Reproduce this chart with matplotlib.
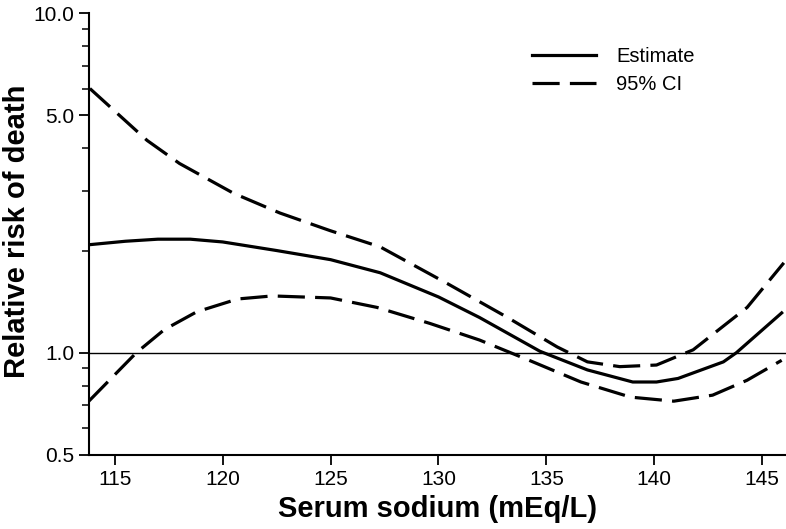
import matplotlib
matplotlib.use("Agg")
import matplotlib.pyplot as plt
from matplotlib.ticker import FixedLocator, NullFormatter

plt.rcParams['font.family'] = ['Liberation Sans', 'DejaVu Sans']

# values
est_x = [113.8, 115.5, 117.0, 118.5, 120.0, 122.5, 125.0, 127.3, 130.0, 131.9, 134.7, 136.9, 139.0, 140.1, 141.1, 143.2, 143.8, 145.9]
est_y = [2.08, 2.13, 2.16, 2.16, 2.12, 2.00, 1.88, 1.72, 1.46, 1.27, 1.01, 0.89, 0.82, 0.82, 0.84, 0.94, 1.00, 1.31]

upper_x = [113.85, 116.5, 118.0, 120.5, 122.65, 124.97, 127.3, 130.4, 133.2, 135.5, 136.9, 138.4, 140.1, 141.8, 144.3, 146.0]
upper_y = [6.0, 4.22, 3.61, 2.95, 2.58, 2.29, 2.05, 1.60, 1.27, 1.04, 0.94, 0.91, 0.92, 1.02, 1.36, 1.84]

lower_x = [113.8, 116.0, 117.3, 118.8, 120.7, 122.3, 125.0, 127.15, 129.6, 131.9, 134.2, 136.6, 138.9, 140.9, 142.7, 144.3, 145.9]
lower_y = [0.72, 1.0, 1.17, 1.32, 1.44, 1.47, 1.45, 1.36, 1.22, 1.09, 0.95, 0.82, 0.74, 0.72, 0.75, 0.83, 0.95]

fig = plt.figure(figsize=(7.86, 5.29), dpi=100)
ax = fig.add_axes([0.113, 0.14, 0.887, 0.835])

dash = (0, (8.5, 3.2))
ax.axhline(1.0, color='black', lw=1.0)
ax.plot(est_x, est_y, color='black', lw=2.3, label='Estimate')
ax.plot(upper_x, upper_y, color='black', lw=2.3, linestyle=dash, label='95% CI')
ax.plot(lower_x, lower_y, color='black', lw=2.3, linestyle=dash)

ax.set_yscale('log')
ax.set_ylim(0.5, 10.0)
ax.set_xlim(113.8, 146.1)
ax.yaxis.set_major_locator(FixedLocator([0.5, 1.0, 5.0, 10.0]))
ax.yaxis.set_minor_locator(FixedLocator([0.6, 0.7, 0.8, 0.9, 2, 3, 4, 6, 7, 8, 9]))
ax.yaxis.set_minor_formatter(NullFormatter())
ax.set_yticklabels(['0.5', '1.0', '5.0', '10.0'])
ax.set_xticks([115, 120, 125, 130, 135, 140, 145])

for s in ['top', 'right']:
    ax.spines[s].set_visible(False)
for s in ['left', 'bottom']:
    ax.spines[s].set_linewidth(1.5)
ax.tick_params(axis='both', which='major', labelsize=15, length=7, width=1.3, direction='out')
ax.tick_params(axis='y', which='minor', length=5, width=1.1)

ax.set_xlabel('Serum sodium (mEq/L)', fontsize=21, fontweight='bold', labelpad=5)
ax.set_ylabel('Relative risk of death', fontsize=21, fontweight='bold')
ax.yaxis.set_label_coords(-0.083, 0.507)

ax.legend(loc='upper right', bbox_to_anchor=(0.895, 0.965), frameon=False, fontsize=14.5,
          handlelength=3.2, handletextpad=1.0, labelspacing=0.44)

fig.savefig('out.png', dpi=100)
